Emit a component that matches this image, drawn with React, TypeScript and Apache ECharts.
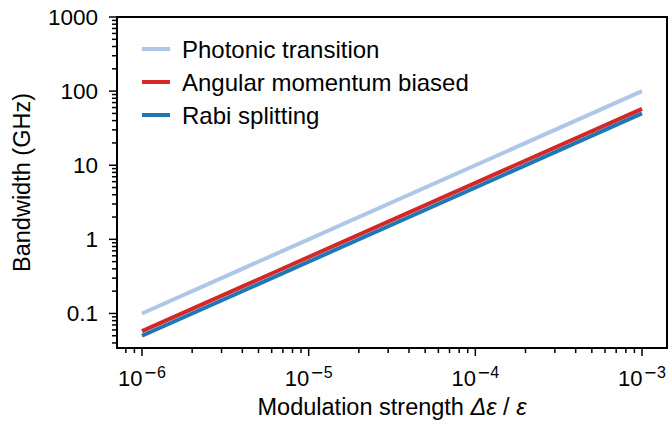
import React, { useEffect, useRef } from 'react';
import * as echarts from 'echarts';

// ---- data ----
const xValues = [1e-6, 1e-3];
const photonicTransition = [0.1, 100];
const angularMomentumBiased = [0.0577, 57.7];
const rabiSplitting = [0.05, 50];

const seriesNames = ['Photonic transition', 'Angular momentum biased', 'Rabi splitting'];
const seriesColors = ['#aec7e8', '#d62728', '#1f77b4'];

// ---- ticks ----
const xMajorTicks = [1e-6, 1e-5, 1e-4, 1e-3];
const yMajorTicks = [0.1, 1, 10, 100, 1000];
const minorMultipliers = [2, 3, 4, 5, 6, 7, 8, 9];
const xMinorDecades = [1e-7, 1e-6, 1e-5, 1e-4, 1e-3];
const yMinorDecades = [0.01, 0.1, 1, 10, 100];

const X_MIN = Math.pow(10, -6.15);
const X_MAX = Math.pow(10, -2.85);
const Y_MIN = Math.pow(10, -1.466);
const Y_MAX = 1000;

const FONT = '"Liberation Sans", Arial, Helvetica, sans-serif';

function minorList(decades: number[], lo: number, hi: number) {
  const out: number[] = [];
  decades.forEach((d) => minorMultipliers.forEach((m) => {
    const v = d * m;
    if (v >= lo && v <= hi) out.push(v);
  }));
  return out;
}

export default function App() {
  const ref = useRef<HTMLDivElement>(null);
  useEffect(() => {
    if (!ref.current) return;
    const chart = echarts.init(ref.current, undefined, { renderer: 'svg' });
    const seriesData = [photonicTransition, angularMomentumBiased, rabiSplitting];

    const xTickData = [
      ...xMajorTicks.map((v) => [v, Y_MIN, 1]),
      ...minorList(xMinorDecades, X_MIN, X_MAX).map((v) => [v, Y_MIN, 0]),
    ];
    const yTickData = [
      ...yMajorTicks.map((v) => [X_MIN, v, 1]),
      ...minorList(yMinorDecades, Y_MIN, Y_MAX).map((v) => [X_MIN, v, 0]),
    ];

    const option: any = {
      animation: false,
      backgroundColor: '#fff',
      grid: {
        left: 117, right: 3, top: 17, bottom: 76,
        show: true, borderColor: '#000', borderWidth: 2, backgroundColor: 'transparent',
      },
      legend: {
        orient: 'vertical',
        left: 137,
        top: 31,
        itemWidth: 28,
        itemHeight: 4,
        itemGap: 7,
        icon: 'rect',
        data: seriesNames,
        textStyle: { fontSize: 24, fontFamily: FONT, color: '#000', lineHeight: 26, padding: [0, 0, 0, 7] },
      },
      xAxis: {
        type: 'log', logBase: 10, min: X_MIN, max: X_MAX,
        axisLine: { show: false }, axisTick: { show: false }, splitLine: { show: false },
        axisLabel: {
          showMinLabel: false, showMaxLabel: false, margin: 16, color: '#000',
          formatter: (v: number) => {
            const e = Math.round(Math.log10(v));
            return '{b|10}' + (e < 0 ? '{m|\u2212}' : '') + '{s|' + Math.abs(e) + '}';
          },
          rich: {
            b: { fontSize: 22, fontFamily: FONT, color: '#000', lineHeight: 28 },
            m: { fontSize: 16, fontFamily: '"DejaVu Sans", sans-serif', color: '#000', verticalAlign: 'top', lineHeight: 12, padding: [0, 0, 0, 1] },
            s: { fontSize: 16, fontFamily: FONT, color: '#000', verticalAlign: 'top', lineHeight: 12 },
          },
        },
        name: '{n|Modulation strength }{m|\u0394\u03b5}{n| / }{m|\u03b5}',
        nameLocation: 'middle',
        nameGap: 47,
        nameTextStyle: {
          rich: {
            n: { fontSize: 23.5, fontFamily: FONT, color: '#000' },
            m: { fontSize: 23.5, fontFamily: FONT, fontStyle: 'italic', color: '#000' },
          },
        },
      },
      yAxis: {
        type: 'log', logBase: 10, min: Y_MIN, max: Y_MAX,
        axisLine: { show: false }, axisTick: { show: false }, splitLine: { show: false },
        axisLabel: {
          showMinLabel: false, margin: 19, color: '#000', fontSize: 22.5, fontFamily: FONT,
          formatter: (v: number) => {
            const e = Math.round(Math.log10(v));
            return e < 0 ? Math.pow(10, e).toFixed(-e) : String(Math.round(Math.pow(10, e)));
          },
        },
        name: 'Bandwidth (GHz)',
        nameLocation: 'middle',
        nameGap: 83,
        nameTextStyle: { fontSize: 23.5, fontFamily: FONT, color: '#000' },
      },
      series: [
        ...seriesNames.map((name, i) => ({
          name,
          type: 'line',
          data: xValues.map((x, j) => [x, seriesData[i][j]]),
          showSymbol: false,
          symbol: 'none',
          color: seriesColors[i],
          lineStyle: { color: seriesColors[i], width: 4 },
          silent: true,
          z: 3 + i,
        })),
        {
          type: 'custom',
          silent: true,
          clip: false,
          data: xTickData,
          encode: { x: 0, y: 1 },
          z: 10,
          renderItem: (params: any, api: any) => {
            const p = api.coord([api.value(0), api.value(1)]);
            const len = api.value(2) === 1 ? 8 : 5;
            return {
              type: 'line',
              shape: { x1: p[0], y1: p[1], x2: p[0], y2: p[1] + len },
              style: { stroke: '#000', lineWidth: 1.5 },
            };
          },
        },
        {
          type: 'custom',
          silent: true,
          clip: false,
          data: yTickData,
          encode: { x: 0, y: 1 },
          z: 10,
          renderItem: (params: any, api: any) => {
            const p = api.coord([api.value(0), api.value(1)]);
            const len = api.value(2) === 1 ? 8 : 5;
            return {
              type: 'line',
              shape: { x1: p[0], y1: p[1], x2: p[0] - len, y2: p[1] },
              style: { stroke: '#000', lineWidth: 1.5 },
            };
          },
        },
      ],
    };
    chart.setOption(option);
    return () => chart.dispose();
  }, []);
  return (
    <div
      ref={ref}
      style={{ position: 'fixed', left: 0, top: 0, width: 670, height: 424, background: '#fff' }}
    />
  );
}
